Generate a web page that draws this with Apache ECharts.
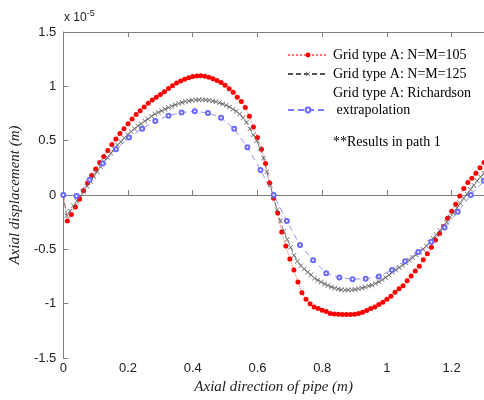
<!DOCTYPE html>
<html>
<head>
<meta charset="utf-8">
<script src="https://cdn.jsdelivr.net/npm/echarts@6/dist/echarts.min.js"></script>
<style>
  html, body { margin: 0; padding: 0; background: #fff; }
  #main { width: 484px; height: 400px; }
</style>
</head>
<body>
<div id="main"></div>
<script>
// pipe length and grid steps (x of each node = index * step)
var pipeLength = 1.3;
var stepN105 = pipeLength / 104;
var stepN125 = pipeLength / 124;
var stepRich = pipeLength / 32;

var seriesNames = ['Grid type A: N=M=105', 'Grid type A: N=M=125', 'Grid type A: Richardson\n extrapolation\n\u00a0'];

// axial displacement, x 10^-5 m
var dispN105 = [0, -0.24, -0.18, -0.11, -0.04, 0.04, 0.11, 0.18, 0.24, 0.30,
  0.355, 0.41, 0.465, 0.515, 0.565, 0.61, 0.655, 0.70, 0.74, 0.775,
  0.81, 0.845, 0.875, 0.90, 0.925, 0.95, 0.98, 1.005, 1.03, 1.05,
  1.065, 1.08, 1.09, 1.095, 1.097, 1.093, 1.083, 1.07, 1.053, 1.035,
  1.01, 0.977, 0.945, 0.90, 0.86, 0.805, 0.725, 0.625, 0.53, 0.42,
  0.29, 0.11, -0.03, -0.165, -0.34, -0.47, -0.59, -0.69, -0.80, -0.90,
  -0.96, -1.0, -1.03, -1.045, -1.06, -1.073, -1.09, -1.095, -1.098, -1.10,
  -1.10, -1.10, -1.097, -1.09, -1.078, -1.063, -1.045, -1.03, -1.008, -0.986,
  -0.96, -0.932, -0.895, -0.862, -0.835, -0.79, -0.745, -0.70, -0.655, -0.595,
  -0.54, -0.48, -0.415, -0.355, -0.29, -0.215, -0.15, -0.085, -0.01, 0.06,
  0.115, 0.155, 0.20, 0.25, 0.30];

var dispN125 = [0, -0.19, -0.15, -0.10, -0.055, -0.01, 0.035, 0.08, 0.125, 0.17,
  0.215, 0.26, 0.305, 0.345, 0.385, 0.425, 0.46, 0.49, 0.525, 0.555,
  0.585, 0.61, 0.635, 0.655, 0.68, 0.70, 0.725, 0.745, 0.76, 0.776,
  0.79, 0.805, 0.817, 0.83, 0.842, 0.852, 0.86, 0.866, 0.871, 0.874,
  0.876, 0.877, 0.875, 0.871, 0.865, 0.858, 0.848, 0.837, 0.825, 0.81,
  0.79, 0.77, 0.745, 0.71, 0.67, 0.61, 0.555, 0.50, 0.43, 0.34,
  0.215, 0.09, -0.025, -0.135, -0.24, -0.335, -0.41, -0.48, -0.555, -0.61,
  -0.65, -0.68, -0.71, -0.735, -0.765, -0.785, -0.80, -0.818, -0.832, -0.846,
  -0.858, -0.866, -0.872, -0.875, -0.875, -0.873, -0.869, -0.863, -0.856, -0.848,
  -0.838, -0.828, -0.815, -0.798, -0.78, -0.76, -0.737, -0.712, -0.69, -0.667,
  -0.647, -0.625, -0.60, -0.575, -0.55, -0.525, -0.50, -0.47, -0.435, -0.40,
  -0.363, -0.326, -0.29, -0.25, -0.205, -0.165, -0.12, -0.075, -0.03, 0.01,
  0.05, 0.09, 0.13, 0.165, 0.2];

var dispRich = [0, -0.01, 0.14, 0.29, 0.42, 0.53, 0.61, 0.68, 0.73, 0.76,
  0.77, 0.755, 0.71, 0.61, 0.44, 0.23, 0.0, -0.24, -0.46, -0.60,
  -0.72, -0.76, -0.775, -0.77, -0.75, -0.69, -0.61, -0.525, -0.43, -0.30,
  -0.155, 0.0, 0.13];

function toPairs(vals, step) {
  return vals.map(function (v, i) { return [i * step, v]; });
}

var xMark = 'path://M0,1L1,0L5,4L9,0L10,1L6,5L10,9L9,10L5,6L1,10L0,9L4,5Z';
var serif = '"Liberation Serif", "Times New Roman", serif';
var sans = '"Liberation Sans", Arial, sans-serif';
var axisGray = '#7f7f7f';

var myChart = echarts.init(document.getElementById('main'));
var option = {
  animation: false,
  backgroundColor: '#fff',
  grid: { left: 63, top: 32, bottom: 38, right: -7 },
  legend: {
    orient: 'vertical',
    left: 287,
    top: 46.5,
    padding: 0,
    itemWidth: 40,
    itemHeight: 6,
    itemGap: 2,
    textStyle: { fontFamily: serif, fontSize: 14, color: '#000', lineHeight: 17 },
    data: seriesNames
  },
  graphic: [
    {
      type: 'text', left: 333, top: 135,
      style: { text: '**Results in path 1', font: '14px ' + serif, fill: '#000' }
    },
    {
      type: 'text', left: 64, top: 9,
      style: {
        text: 'x 10{s|-5}',
        font: '12px ' + sans, fill: '#222',
        rich: { s: { fontSize: 9, fontFamily: 'Liberation Sans', fill: '#222', verticalAlign: 'top', padding: [0, 0, 8, 0] } }
      }
    }
  ],
  xAxis: [
    {
      type: 'value', min: 0, max: pipeLength, interval: 0.2,
      name: 'Axial direction of pipe (m)',
      nameLocation: 'middle', nameGap: 22,
      nameTextStyle: { fontFamily: serif, fontStyle: 'italic', fontSize: 15, color: '#222' },
      axisLine: { lineStyle: { color: axisGray, width: 1 } },
      axisTick: { inside: true, length: 5, lineStyle: { color: axisGray } },
      axisLabel: { fontFamily: sans, fontSize: 13, color: '#222', margin: 4, showMaxLabel: false },
      splitLine: { show: false }
    },
    {
      type: 'value', position: 'top', min: 0, max: pipeLength, interval: 0.2,
      axisLine: { lineStyle: { color: axisGray, width: 1 } },
      axisTick: { inside: true, length: 5, lineStyle: { color: axisGray } },
      axisLabel: { show: false },
      splitLine: { show: false }
    }
  ],
  yAxis: {
    type: 'value', min: -1.5, max: 1.5, interval: 0.5,
    name: 'Axial displacement (m)',
    nameLocation: 'middle', nameGap: 38,
    nameTextStyle: { fontFamily: serif, fontStyle: 'italic', fontSize: 15, color: '#222' },
    axisLine: { lineStyle: { color: axisGray, width: 1 } },
    axisTick: { inside: true, length: 5, lineStyle: { color: axisGray } },
    axisLabel: { fontFamily: sans, fontSize: 13, color: '#222', margin: 7 },
    splitLine: { show: false }
  },
  series: [
    {
      name: seriesNames[0], type: 'line',
      data: toPairs(dispN105, stepN105),
      symbol: 'circle', symbolSize: 5,
      itemStyle: { color: '#ff0000' },
      lineStyle: { color: '#ff6a6a', width: 1, type: 'dotted' }
    },
    {
      name: seriesNames[1], type: 'line',
      data: toPairs(dispN125, stepN125),
      symbol: xMark, symbolSize: 5,
      itemStyle: { color: '#666' },
      lineStyle: { color: '#555', width: 0.8, type: [5, 3] }
    },
    {
      name: seriesNames[2], type: 'line',
      data: toPairs(dispRich, stepRich),
      symbol: 'emptyCircle', symbolSize: 4,
      itemStyle: { color: '#6a6aff', borderWidth: 1 },
      lineStyle: { color: '#7b7bff', width: 0.8, type: [6, 4] }
    }
  ]
};
myChart.setOption(option);
</script>
</body>
</html>
